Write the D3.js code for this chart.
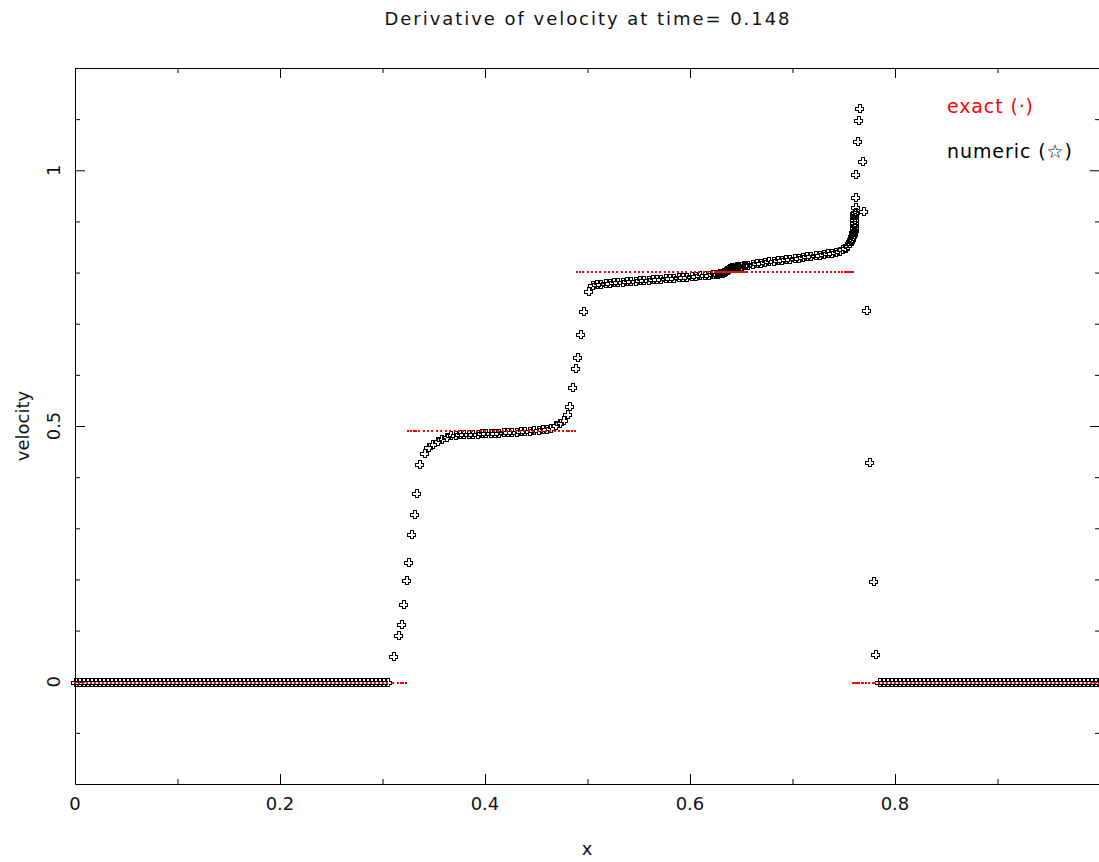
<!DOCTYPE html>
<html>
<head>
<meta charset="utf-8">
<script src="https://cdn.jsdelivr.net/npm/d3@7"></script>
<style>
  html, body { margin: 0; padding: 0; background: #fff; }
  svg { display: block; }
  text { font-family: "DejaVu Sans", "Liberation Sans", sans-serif; fill: #111; }
</style>
</head>
<body>
<svg id="chart" width="1099" height="862"></svg>
<script>
// Numerical solution: particle positions and velocity derivative values
const numX = [
  0.0000, 0.0039, 0.0078, 0.0117, 0.0156, 0.0195, 0.0234, 0.0273, 0.0313, 0.0352,
  0.0391, 0.0430, 0.0469, 0.0508, 0.0547, 0.0586, 0.0625, 0.0664, 0.0703, 0.0742,
  0.0781, 0.0820, 0.0859, 0.0898, 0.0938, 0.0977, 0.1016, 0.1055, 0.1094, 0.1133,
  0.1172, 0.1211, 0.1250, 0.1289, 0.1328, 0.1367, 0.1406, 0.1445, 0.1484, 0.1523,
  0.1563, 0.1602, 0.1641, 0.1680, 0.1719, 0.1758, 0.1797, 0.1836, 0.1875, 0.1914,
  0.1953, 0.1992, 0.2031, 0.2070, 0.2109, 0.2148, 0.2188, 0.2227, 0.2266, 0.2305,
  0.2344, 0.2383, 0.2422, 0.2461, 0.2500, 0.2539, 0.2578, 0.2617, 0.2656, 0.2695,
  0.2734, 0.2773, 0.2813, 0.2852, 0.2891, 0.2930, 0.2969, 0.3008, 0.3047,
  // first rise
  0.3105, 0.3154, 0.3178, 0.3203, 0.3229, 0.3252, 0.3278, 0.3304, 0.3327, 0.3353,
  0.3400, 0.3443, 0.3484, 0.3530, 0.3572, 0.3618, 0.3663,
  // lower plateau
  0.3705, 0.3748, 0.3790, 0.3833, 0.3875, 0.3918, 0.3960, 0.4003, 0.4045, 0.4088,
  0.4130, 0.4173, 0.4215, 0.4258, 0.4300, 0.4343, 0.4385, 0.4428, 0.4470, 0.4513,
  0.4555, 0.4598,
  // second rise
  0.4638, 0.4680, 0.4722, 0.4762, 0.4800, 0.4823, 0.4852, 0.4878, 0.4901, 0.4927,
  0.4953, 0.5000,
  // upper plateau
  0.5040, 0.5082, 0.5124, 0.5166, 0.5208, 0.5250, 0.5292, 0.5334, 0.5376, 0.5418,
  0.5460, 0.5502, 0.5544, 0.5586, 0.5628, 0.5670, 0.5712, 0.5754, 0.5796, 0.5838,
  0.5880, 0.5922, 0.5964, 0.6006, 0.6048, 0.6090, 0.6132, 0.6174, 0.6216,
  // compressed cluster
  0.6240, 0.6255, 0.6268, 0.6280, 0.6291, 0.6301, 0.6310, 0.6319, 0.6328, 0.6337,
  0.6346, 0.6355, 0.6364, 0.6373, 0.6382, 0.6392, 0.6402, 0.6413, 0.6425, 0.6438,
  0.6452, 0.6467, 0.6483, 0.6500, 0.6518, 0.6537,
  // upper plateau, right part
  0.6560, 0.6600, 0.6641, 0.6682, 0.6723, 0.6764, 0.6805, 0.6846, 0.6887, 0.6928,
  0.6969, 0.7010, 0.7051, 0.7092, 0.7133, 0.7174, 0.7215, 0.7256, 0.7297, 0.7338,
  0.7378, 0.7416,
  // approach to the shock
  0.7450, 0.7482, 0.7508, 0.7530, 0.7548, 0.7562, 0.7574, 0.7583, 0.7590,
  // shock column
  0.7594, 0.7596, 0.7597, 0.7598, 0.7599, 0.7599, 0.7600, 0.7600, 0.7601, 0.7601,
  0.7602, 0.7603,
  // overshoot and drop
  0.7605, 0.7610, 0.7610, 0.7612, 0.7628, 0.7642, 0.7650, 0.7676, 0.7692, 0.7717,
  0.7746, 0.7788, 0.7800,
  // right undisturbed state
  0.7847, 0.7886, 0.7925, 0.7964, 0.8003, 0.8042, 0.8081, 0.8120, 0.8159, 0.8198,
  0.8237, 0.8276, 0.8315, 0.8354, 0.8393, 0.8432, 0.8471, 0.8510, 0.8549, 0.8588,
  0.8627, 0.8666, 0.8705, 0.8744, 0.8783, 0.8822, 0.8861, 0.8900, 0.8939, 0.8978,
  0.9017, 0.9056, 0.9095, 0.9134, 0.9173, 0.9212, 0.9251, 0.9290, 0.9329, 0.9368,
  0.9407, 0.9446, 0.9485, 0.9524, 0.9563, 0.9602, 0.9641, 0.9680, 0.9719, 0.9758,
  0.9797, 0.9836, 0.9875, 0.9914, 0.9953, 0.9992
];

const numY = [
  0, 0, 0, 0, 0, 0, 0, 0, 0, 0,
  0, 0, 0, 0, 0, 0, 0, 0, 0, 0,
  0, 0, 0, 0, 0, 0, 0, 0, 0, 0,
  0, 0, 0, 0, 0, 0, 0, 0, 0, 0,
  0, 0, 0, 0, 0, 0, 0, 0, 0, 0,
  0, 0, 0, 0, 0, 0, 0, 0, 0, 0,
  0, 0, 0, 0, 0, 0, 0, 0, 0, 0,
  0, 0, 0, 0, 0, 0, 0, 0, 0,
  0.051, 0.092, 0.113, 0.152, 0.198, 0.234, 0.288, 0.328, 0.369, 0.425,
  0.447, 0.458, 0.465, 0.471, 0.475, 0.479, 0.482,
  0.483, 0.484, 0.484, 0.485, 0.485, 0.485, 0.486, 0.486, 0.486, 0.487,
  0.487, 0.488, 0.488, 0.489, 0.489, 0.490, 0.490, 0.491, 0.492, 0.493,
  0.494, 0.495,
  0.497, 0.501, 0.505, 0.511, 0.524, 0.539, 0.577, 0.614, 0.635, 0.679,
  0.725, 0.763,
  0.775, 0.777, 0.778, 0.779, 0.780, 0.781, 0.782, 0.782, 0.783, 0.784,
  0.784, 0.785, 0.786, 0.786, 0.787, 0.788, 0.788, 0.789, 0.790, 0.790,
  0.791, 0.792, 0.792, 0.793, 0.794, 0.795, 0.795, 0.796, 0.797,
  0.797, 0.798, 0.798, 0.799, 0.799, 0.800, 0.800, 0.801, 0.802, 0.803,
  0.804, 0.805, 0.806, 0.807, 0.808, 0.809, 0.810, 0.810, 0.811, 0.811,
  0.812, 0.812, 0.813, 0.813, 0.814, 0.814,
  0.815, 0.816, 0.818, 0.819, 0.820, 0.822, 0.823, 0.824, 0.825, 0.826,
  0.827, 0.828, 0.829, 0.830, 0.832, 0.833, 0.834, 0.835, 0.836, 0.838,
  0.839, 0.841,
  0.843, 0.846, 0.849, 0.853, 0.857, 0.861, 0.866, 0.871, 0.876,
  0.880, 0.884, 0.887, 0.890, 0.893, 0.896, 0.899, 0.902, 0.905, 0.908,
  0.912, 0.916,
  0.918, 0.928, 0.947, 0.993, 1.057, 1.098, 1.122, 1.018, 0.920, 0.726,
  0.430, 0.197, 0.054,
  0, 0, 0, 0, 0, 0, 0, 0, 0, 0,
  0, 0, 0, 0, 0, 0, 0, 0, 0, 0,
  0, 0, 0, 0, 0, 0, 0, 0, 0, 0,
  0, 0, 0, 0, 0, 0, 0, 0, 0, 0,
  0, 0, 0, 0, 0, 0, 0, 0, 0, 0,
  0, 0, 0, 0, 0, 0
];

// Exact solution: piecewise-constant states separated by the wave fronts
const exactBreaks = [0.3240, 0.4890, 0.7592];
const exactLevels = [0, 0.492, 0.803, 0];

// Axis ticks and labels
const xMajor = [0, 0.2, 0.4, 0.6, 0.8];
const xMinor = [0.1, 0.3, 0.5, 0.7, 0.9];
const xTickLabels = ["0", "0.2", "0.4", "0.6", "0.8"];
const yMajor = [0, 0.5, 1];
const yMinor = [-0.1, 0.1, 0.2, 0.3, 0.4, 0.6, 0.7, 0.8, 0.9, 1.1];
const yTickLabels = ["0", "0.5", "1"];

const titleText = "Derivative of velocity at time= 0.148";
const legendLabels = ["exact (\u00b7)", "numeric (\u2606)"];
const legendColors = ["#ff0000", "#000000"];

const svg = d3.select("#chart");
const plotLeft = 75, plotRight = 1100, plotTop = 68, plotBottom = 784;

const x = d3.scaleLinear().domain([0, 1]).range([plotLeft, plotRight]);
const y = d3.scaleLinear().domain([-0.2, 1.2]).range([plotBottom, plotTop]);

svg.append("rect").attr("width", 1099).attr("height", 862).attr("fill", "#fff");

// Axes on all four sides, ticks pointing inward
function styleAxis(g) {
  g.attr("font-family", null).attr("font-size", null);
  g.selectAll("line, path").attr("stroke", "#000");
}
const axisDefs = [
  { gen: () => d3.axisBottom(x), t: `translate(0,${plotBottom})`, major: xMajor, minor: xMinor },
  { gen: () => d3.axisTop(x), t: `translate(0,${plotTop})`, major: xMajor, minor: xMinor },
  { gen: () => d3.axisLeft(y), t: `translate(${plotLeft},0)`, major: yMajor, minor: yMinor },
  { gen: () => d3.axisRight(y), t: `translate(${plotRight},0)`, major: yMajor, minor: yMinor }
];
axisDefs.forEach(a => {
  svg.append("g").attr("transform", a.t)
    .call(a.gen().tickValues(a.major).tickSizeInner(-10).tickSizeOuter(0).tickFormat(""))
    .call(styleAxis);
  svg.append("g").attr("transform", a.t)
    .call(a.gen().tickValues(a.minor).tickSizeInner(-5).tickSizeOuter(0).tickFormat(""))
    .call(styleAxis)
    .select(".domain").remove();
});

// Tick labels
svg.append("g").selectAll("text").data(xMajor).join("text")
  .attr("x", d => x(d)).attr("y", 810)
  .attr("text-anchor", "middle").attr("font-size", 18)
  .text((d, i) => xTickLabels[i]);

svg.append("g").selectAll("text").data(yMajor).join("text")
  .attr("transform", d => `translate(60,${y(d)}) rotate(-90)`)
  .attr("text-anchor", "middle").attr("font-size", 18)
  .text((d, i) => yTickLabels[i]);

// Axis titles and chart title
svg.append("text").attr("x", 587).attr("y", 855)
  .attr("text-anchor", "middle").attr("font-size", 18).text("x");
svg.append("text").attr("transform", `translate(29,${y(0.5)}) rotate(-90)`)
  .attr("text-anchor", "middle").attr("font-size", 18).text("velocity");
svg.append("text").attr("x", 587).attr("y", 25)
  .attr("text-anchor", "middle").attr("font-size", 18)
  .attr("textLength", 405).attr("lengthAdjust", "spacing")
  .text(titleText);

// Legend
svg.append("g").selectAll("text").data(legendLabels).join("text")
  .attr("x", 947).attr("y", (d, i) => 113 + i * 45)
  .attr("font-size", 19)
  .attr("textLength", (d, i) => [86, 125][i]).attr("lengthAdjust", "spacing")
  .style("fill", (d, i) => legendColors[i])
  .text(d => d);

// Numeric points: outlined Greek crosses
const crossShape = {
  draw(ctx) {
    const h = 4, w = 1.5;
    ctx.moveTo(-w, -h); ctx.lineTo(w, -h); ctx.lineTo(w, -w); ctx.lineTo(h, -w);
    ctx.lineTo(h, w); ctx.lineTo(w, w); ctx.lineTo(w, h); ctx.lineTo(-w, h);
    ctx.lineTo(-w, w); ctx.lineTo(-h, w); ctx.lineTo(-h, -w); ctx.lineTo(-w, -w);
    ctx.closePath();
  }
};
const points = numX.map((v, i) => ({ x: v, y: numY[i] }));
svg.append("g")
  .selectAll("path").data(points).join("path")
  .attr("d", d3.symbol().type(crossShape)())
  .attr("transform", d => `translate(${Math.round(x(d.x)) + 0.5},${Math.round(y(d.y)) + 0.5})`)
  .attr("fill", "none").attr("stroke", "#000").attr("stroke-width", 1)
  .attr("shape-rendering", "crispEdges");

// Exact solution sampled at the particle positions: small red dots
const exact = numX.map(v => ({ x: v, y: exactLevels[d3.bisectRight(exactBreaks, v)] }));
svg.append("g")
  .selectAll("rect").data(exact).join("rect")
  .attr("x", d => Math.round(x(d.x)) - 1)
  .attr("y", d => Math.round(y(d.y)))
  .attr("width", 2).attr("height", 2)
  .attr("fill", "#ff0000")
  .attr("shape-rendering", "crispEdges");
</script>
</body>
</html>
